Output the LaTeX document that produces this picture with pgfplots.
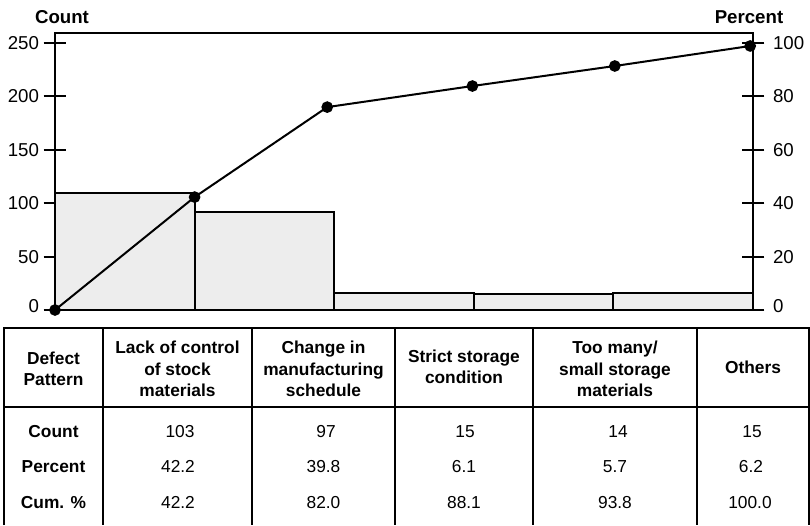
\documentclass[border=0pt]{standalone}
\usepackage{fontspec}
\setmainfont{Liberation Sans}
\usepackage{pgfplots}
\pgfplotsset{compat=1.18}
\definecolor{barfill}{HTML}{EDEDED}
\begin{document}
\begin{tikzpicture}
\useasboundingbox (0,0) rectangle (607.5pt,-393.75pt);
% Count axis with bars
\begin{axis}[
  at={(41.25pt,-232.5pt)}, anchor=south west,
  scale only axis, width=523.5pt, height=207.75pt,
  xmin=0, xmax=5, ymin=0, ymax=259.4,
  clip=false,
  axis line style={line width=1.5pt},
  xtick=\empty, ytick={0,50,100,150,200,250},
  ytick pos=left, tick align=center,
  major tick length=17pt,
  every tick/.style={black, line width=1.5pt},
  /pgf/number format/assume math mode=true,
  yticklabel style={font=\fontsize{14}{16}\selectfont},
  yticklabel={\ifdim\tick pt<1pt \raisebox{5.5pt}{0}\else\pgfmathprintnumber{\tick}\fi},
]
\addplot[ybar interval, fill=barfill, draw=black, line width=1.5pt]
  coordinates {(0,110) (1,92) (2,16.2) (3,15) (4,16.2) (5,16.2)};
\end{axis}
% Percent axis with cumulative line
\begin{axis}[
  at={(41.25pt,-232.5pt)}, anchor=south west,
  scale only axis, width=523.5pt, height=207.75pt,
  xmin=0, xmax=5, ymin=0, ymax=103.76,
  clip=false,
  axis x line=none, axis y line*=right,
  axis line style={line width=1.5pt, -},
  ytick={0,20,40,60,80,100},
  tick align=center,
  major tick length=17pt,
  every tick/.style={black, line width=1.5pt},
  /pgf/number format/assume math mode=true,
  yticklabel style={font=\fontsize{14}{16}\selectfont, xshift=3pt},
  yticklabel={\ifdim\tick pt<1pt \raisebox{5.5pt}{0}\else\pgfmathprintnumber{\tick}\fi},
]
\addplot[black, line width=1.5pt, mark=*, mark size=3.6pt]
  coordinates {(0,0) (1,42.3) (1.95,76.0) (2.99,83.9) (4.01,91.4) (4.98,98.9)};
\end{axis}
\begin{scope}[x=0.75pt, y=-0.75pt]
  \node[font=\bfseries\fontsize{14}{16}\selectfont] at (62,17) {Count};
  \node[font=\bfseries\fontsize{14}{16}\selectfont] at (749,17) {Percent};
  % table grid
  \draw[line width=0.9pt] (4,525) -- (4,328) -- (809,328) -- (809,525);
  \draw[line width=0.9pt] (4,407) -- (809,407);
  \foreach \x in {103,252,395,533,697} \draw[line width=0.9pt] (\x,328) -- (\x,525);
  \begin{scope}[every node/.style={align=center, font=\bfseries\fontsize{13}{16}\selectfont}]
    \node at (53.5,369) {Defect\\Pattern};
    \node at (177.5,369) {Lack of control\\of stock\\materials};
    \node at (323.5,369) {Change in\\manufacturing\\schedule};
    \node at (464,367) {Strict storage\\condition};
    \node at (615,369) {Too many/\\small storage\\materials};
    \node at (753,367) {Others};
    \node[anchor=base] at (53.5,437.5) {Count};
    \node[anchor=base] at (53.5,472.5) {Percent};
    \node[anchor=base] at (53.5,508.5) {Cum. \%};
  \end{scope}
  \begin{scope}[every node/.style={anchor=base, font=\fontsize{13}{16}\selectfont}]
    \node at (180,437.5) {103};
    \node at (326,437.5) {97};
    \node at (465,437.5) {15};
    \node at (618,437.5) {14};
    \node at (752,437.5) {15};
    \node at (178,472.5) {42.2};
    \node at (323.5,472.5) {39.8};
    \node at (464,472.5) {6.1};
    \node at (615,472.5) {5.7};
    \node at (751,472.5) {6.2};
    \node at (178,508.5) {42.2};
    \node at (323.5,508.5) {82.0};
    \node at (464,508.5) {88.1};
    \node at (615,508.5) {93.8};
    \node at (750,508.5) {100.0};
  \end{scope}
\end{scope}
\end{tikzpicture}
\end{document}
